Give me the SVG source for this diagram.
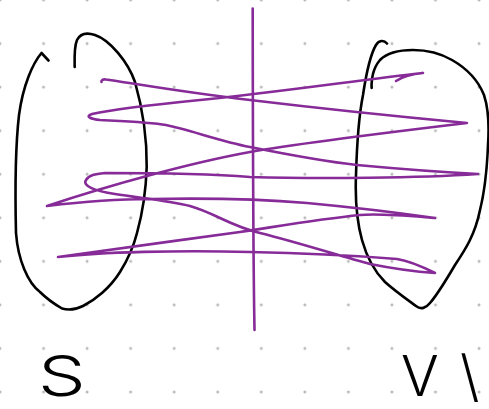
<svg xmlns="http://www.w3.org/2000/svg" width="489" height="409" viewBox="0 0 489 409">
<style>
.ink{fill:none;stroke:#000;stroke-width:2.6;stroke-linecap:round;stroke-linejoin:round}
.pen{fill:none;stroke:#862b97;stroke-width:2.6;stroke-linecap:round;stroke-linejoin:round}
.lbl{font-family:Inter,"Liberation Sans",Arial,sans-serif;font-weight:300;font-size:56px;fill:#000}
</style>
<defs>
<pattern id="dots" patternUnits="userSpaceOnUse" width="43.55" height="43.55" patternTransform="translate(-21.775,-21.775)">
<circle cx="21.775" cy="21.775" r="1.5" fill="#b8b8b8"/>
</pattern>
</defs>
<rect width="489" height="409" fill="#fff"/>
<rect width="489" height="409" fill="url(#dots)"/>
<g id="set-S">
<path class="ink" d="M48.5,60.5 L41.5,53 C33,63 23,85 19,115 C15,150 15,190 16,233 C18,260 28,283 40,292 C48,300 56,305 62,308.5 C67,310 75,310 83,306 C95,300 110,288 120,272 C130,256 134,245 137,233 C142,215 146,190 146.7,167 C147,140 143,110 135,82 C128,62 110,40 95,35 C86,32 80,34 77,40 C74,47 74.5,58 74.7,67"/>
<text class="lbl" transform="translate(38,396) scale(1.35,1)" x="0" y="0">S</text>
</g>
<g id="set-V">
<path class="ink" d="M371.7,88 C371,80 373,68 380,60 C388,52 400,50 413,50 C425,50 440,53 452,60 C466,68 478,80 484,95 C489,110 489,130 488,145 C487,170 485,190 480,210 C475,235 465,250 455,265 C445,282 437,295 430,303 C426,308 421,310 416,306 C405,298 395,291 385,282 C375,272 367,258 362,240 C357,222 355,200 356,175 C357,140 359,115 363,95 C366,75 370,55 376,45 C379,40 384,40 387,43.5"/>
<text class="lbl" x="401" y="396">V<tspan x="460">\</tspan></text>
</g>
<g id="connectors">
<path class="pen" d="M252.7,8.5 C252.8,100 253,250 254.5,330"/>
<path class="pen" d="M101.5,82 C101,80 103,79 106,79.5 C125,82 180,92 250,100 C300,106 360,113 467,123 C400,131 300,143 250,152 C190,163 110,185 47,206 C80,202 120,199 150,199 C200,198 260,199 307,203 C350,207 400,213 435,218 C410,216 380,213 360,215 C320,219 280,226 240,232 C180,240 110,250 58,257 C100,252 180,250 250,252 C310,253 360,256 397,259 C410,261 425,268 435,273 C420,272 390,268 370,264 C340,256 300,243 260,233 C230,226 215,213 190,206 C170,201 140,198 115,194 C95,191 82,186 86,180 C89,175 95,174 105,173 C130,173 200,173 250,177 C320,179 420,178 478,174 C440,172 400,169 357,165 C320,161 290,155 250,147 C220,141 190,130 166,125 C150,122 120,121 100,120 C92,119 84,117 92,114 C110,110 150,105 200,100 C280,92 360,80 423,73 C412,74 402,77 396,81"/>
</g>
</svg>
